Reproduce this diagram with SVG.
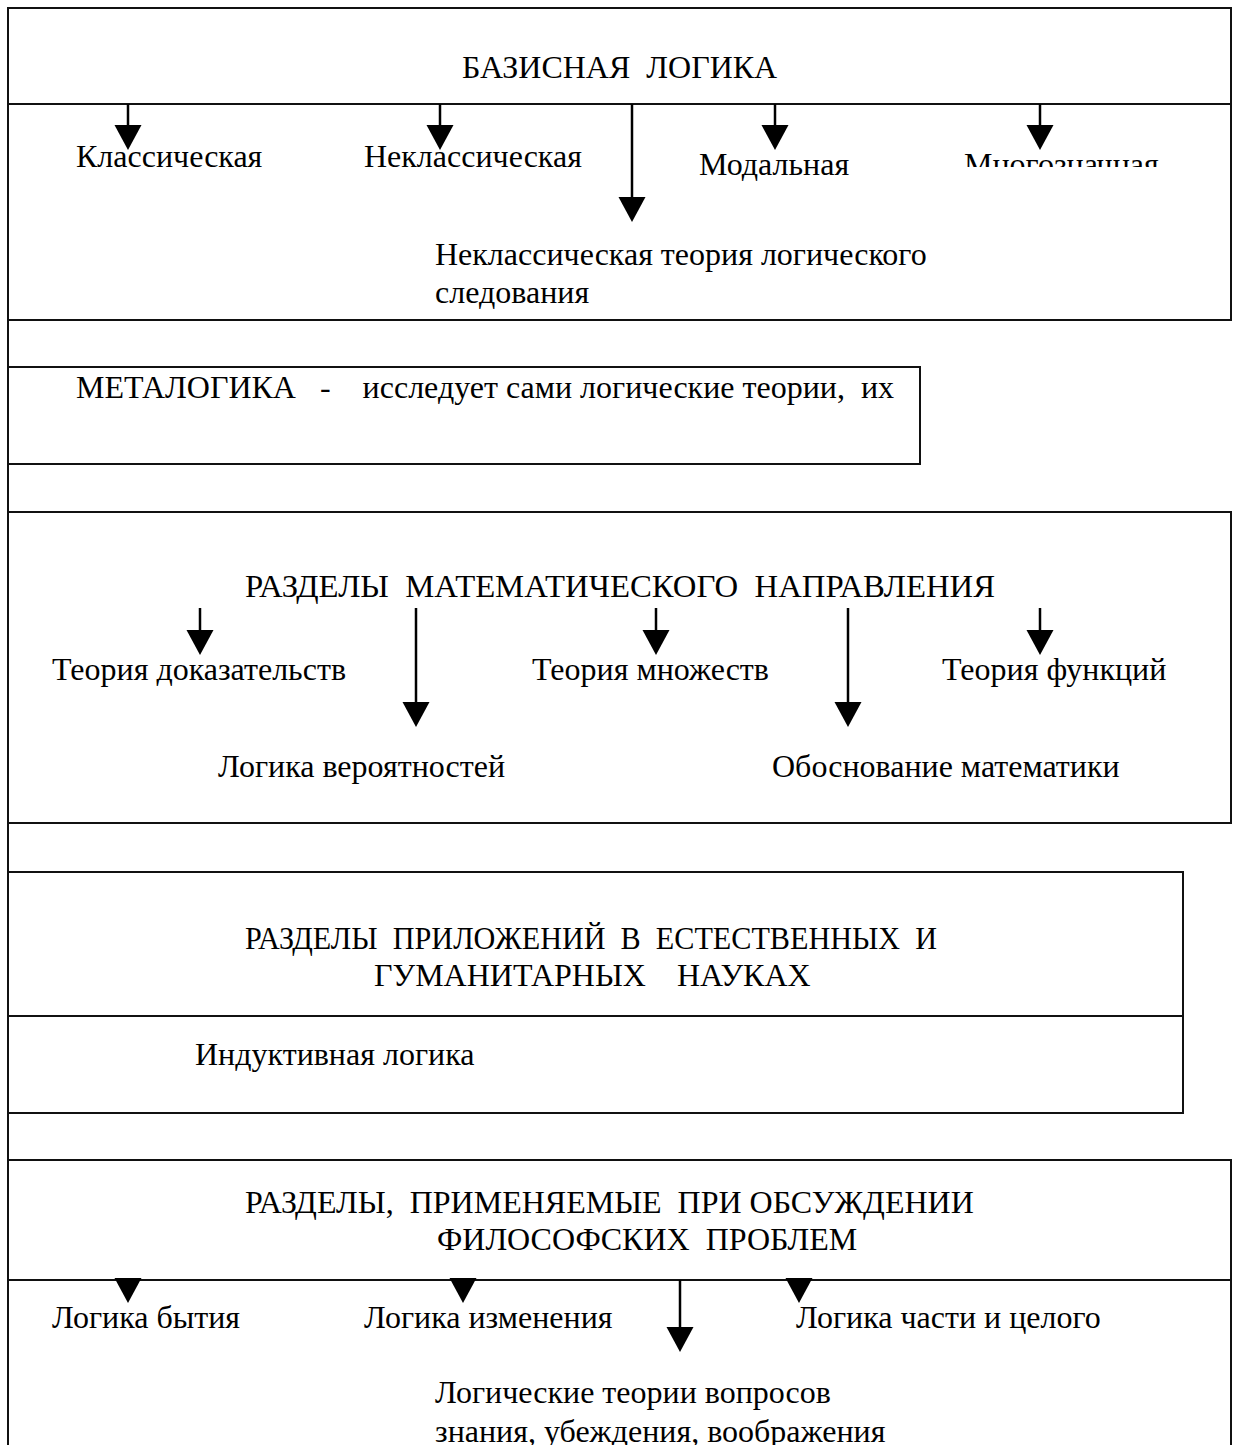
<svg xmlns="http://www.w3.org/2000/svg" width="1234" height="1445" viewBox="0 0 1234 1445">
  <style>
    .frame { fill: none; stroke: #111; stroke-width: 2; }
    .rule { stroke: #111; stroke-width: 2; }
    .lbl { font-family: "Liberation Serif", "Times New Roman", serif; font-size: 32px; fill: #000; }
    .shaft { stroke: #000; stroke-width: 2.5; fill: none; }
    .head { fill: #000; }
  </style>
  <defs>
    <!-- filled downward triangle, tip at (0,0) -->
    <path id="tri" d="M -13.5 -25 L 13.5 -25 L 0 0 Z"/>
    <clipPath id="cutMulti"><rect x="900" y="130" width="320" height="37"/></clipPath>
  </defs>
  <rect width="1234" height="1445" fill="#fff"/>

  <!-- continuous left edge -->
  <line class="rule" x1="8" y1="7" x2="8" y2="1445"/>

  <g id="basic-logic">
    <rect class="frame" x="8" y="8" width="1223" height="312"/>
    <line class="rule" x1="8" y1="104" x2="1231" y2="104"/>
    <text class="lbl" x="462" y="78" xml:space="preserve">БАЗИСНАЯ  ЛОГИКА</text>
    <text class="lbl" x="76" y="167">Классическая</text>
    <text class="lbl" x="364" y="167">Неклассическая</text>
    <text class="lbl" x="699" y="175">Модальная</text>
    <text class="lbl" x="964" y="175" clip-path="url(#cutMulti)">Многозначная</text>
    <text class="lbl" x="435" y="265">Неклассическая теория логического</text>
    <text class="lbl" x="435" y="303">следования</text>
  </g>

  <g id="metalogic">
    <rect class="frame" x="8" y="367" width="912" height="97"/>
    <text class="lbl" x="76" y="398" xml:space="preserve">МЕТАЛОГИКА   -    исследует сами логические теории,  их</text>
  </g>

  <g id="math-sections">
    <rect class="frame" x="8" y="512" width="1223" height="311"/>
    <text class="lbl" x="245" y="597" xml:space="preserve" textLength="750" lengthAdjust="spacingAndGlyphs">РАЗДЕЛЫ  МАТЕМАТИЧЕСКОГО  НАПРАВЛЕНИЯ</text>
    <text class="lbl" x="52" y="680">Теория доказательств</text>
    <text class="lbl" x="532" y="680">Теория множеств</text>
    <text class="lbl" x="942" y="680">Теория функций</text>
    <text class="lbl" x="218" y="777">Логика вероятностей</text>
    <text class="lbl" x="772" y="777">Обоснование математики</text>
  </g>

  <g id="applied-sections">
    <rect class="frame" x="8" y="872" width="1175" height="241"/>
    <line class="rule" x1="8" y1="1016" x2="1183" y2="1016"/>
    <text class="lbl" x="245" y="949" xml:space="preserve" textLength="692" lengthAdjust="spacingAndGlyphs">РАЗДЕЛЫ  ПРИЛОЖЕНИЙ  В  ЕСТЕСТВЕННЫХ  И</text>
    <text class="lbl" y="986"><tspan x="374">ГУМАНИТАРНЫХ</tspan><tspan x="677">НАУКАХ</tspan></text>
    <text class="lbl" x="195" y="1065">Индуктивная логика</text>
  </g>

  <g id="philosophy-sections">
    <path class="frame" d="M 8 1160 H 1231 V 1445"/>
    <line class="rule" x1="8" y1="1280" x2="1231" y2="1280"/>
    <text class="lbl" x="245" y="1213" xml:space="preserve">РАЗДЕЛЫ,  ПРИМЕНЯЕМЫЕ  ПРИ ОБСУЖДЕНИИ</text>
    <text class="lbl" x="437" y="1250" xml:space="preserve">ФИЛОСОФСКИХ  ПРОБЛЕМ</text>
    <text class="lbl" x="52" y="1328">Логика бытия</text>
    <text class="lbl" x="364" y="1328">Логика изменения</text>
    <text class="lbl" x="796" y="1328">Логика части и целого</text>
    <text class="lbl" x="435" y="1403">Логические теории вопросов</text>
    <text class="lbl" x="435" y="1442">знания, убеждения, воображения</text>
  </g>

  <g id="connectors">
    <!-- basic logic -->
    <line class="shaft" x1="128" y1="104" x2="128" y2="126"/><use href="#tri" class="head" x="128" y="150"/>
    <line class="shaft" x1="440" y1="104" x2="440" y2="126"/><use href="#tri" class="head" x="440" y="150"/>
    <line class="shaft" x1="632" y1="104" x2="632" y2="198"/><use href="#tri" class="head" x="632" y="222"/>
    <line class="shaft" x1="775" y1="104" x2="775" y2="126"/><use href="#tri" class="head" x="775" y="150"/>
    <line class="shaft" x1="1040" y1="104" x2="1040" y2="126"/><use href="#tri" class="head" x="1040" y="150"/>
    <!-- math sections -->
    <line class="shaft" x1="200" y1="608" x2="200" y2="630"/><use href="#tri" class="head" x="200" y="655"/>
    <line class="shaft" x1="416" y1="608" x2="416" y2="702"/><use href="#tri" class="head" x="416" y="727"/>
    <line class="shaft" x1="656" y1="608" x2="656" y2="630"/><use href="#tri" class="head" x="656" y="655"/>
    <line class="shaft" x1="848" y1="608" x2="848" y2="702"/><use href="#tri" class="head" x="848" y="727"/>
    <line class="shaft" x1="1040" y1="608" x2="1040" y2="630"/><use href="#tri" class="head" x="1040" y="655"/>
    <!-- philosophy sections -->
    <use href="#tri" class="head" x="128" y="1303"/>
    <use href="#tri" class="head" x="463" y="1303"/>
    <line class="shaft" x1="680" y1="1280" x2="680" y2="1327"/><use href="#tri" class="head" x="680" y="1352"/>
    <use href="#tri" class="head" x="799" y="1303"/>
  </g>
</svg>
